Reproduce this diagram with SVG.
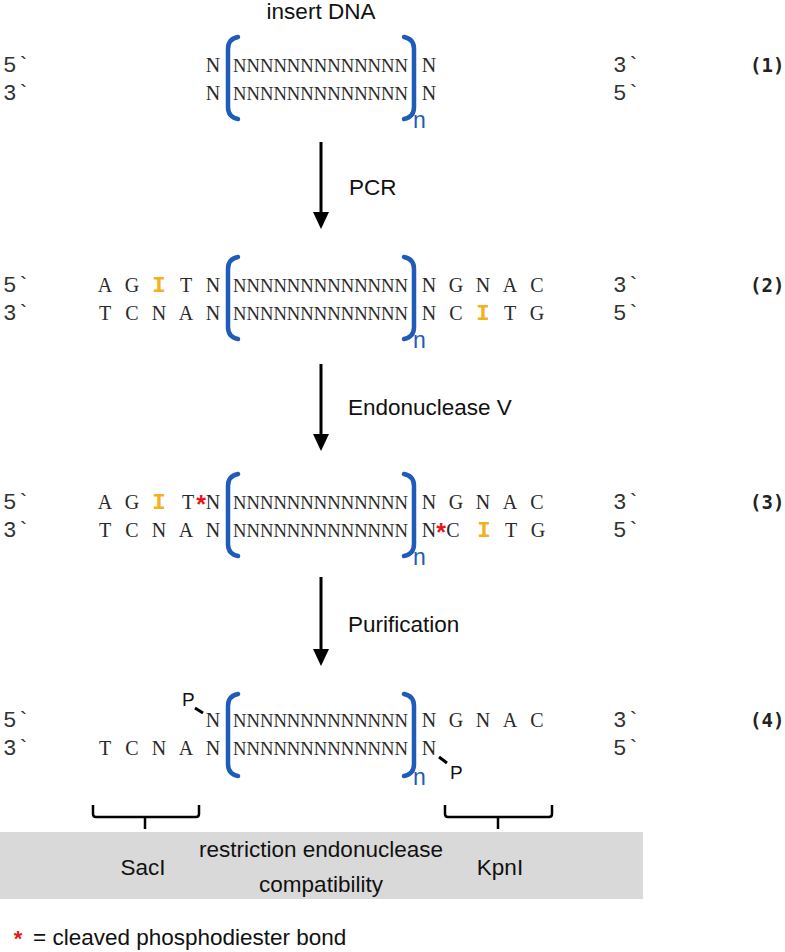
<svg xmlns="http://www.w3.org/2000/svg" width="785" height="952" viewBox="0 0 785 952">
<style>
.m{font-family:"Liberation Serif","Times New Roman",serif;font-size:20px;fill:#2a2a2a}
.e{font-family:"Liberation Mono","Courier New",monospace;font-size:22.5px;fill:#333}
.c{text-anchor:middle}
.ns{font-family:"Liberation Serif","Times New Roman",serif;font-size:19px;fill:#2a2a2a}
.i{font-family:"Liberation Mono","Courier New",monospace;font-size:22.5px;font-weight:bold;fill:#f5b020;text-anchor:middle}
.st{font-family:"Liberation Sans",Arial,sans-serif;font-size:25px;font-weight:bold;fill:#e8141c;text-anchor:middle}
.lab{font-family:"DejaVu Sans Mono","Liberation Mono",monospace;font-size:19px;font-weight:bold;fill:#222}
.s{font-family:"Liberation Sans",Arial,sans-serif;font-size:22.5px;fill:#111}
.n{font-family:"Liberation Sans",Arial,sans-serif;font-size:23px;fill:#1f5cb8}
.p{font-family:"Liberation Sans",Arial,sans-serif;font-size:19px;fill:#111}
.br{fill:none;stroke:#1f5cb8;stroke-width:4.5;stroke-linecap:round}
.ar{stroke:#000;stroke-width:3;fill:none}
.tk{stroke:#000;stroke-width:3;stroke-linecap:butt}
.brace{fill:none;stroke:#000;stroke-width:2.5}
</style>
<defs>
<marker id="ah" markerUnits="userSpaceOnUse" markerWidth="17" markerHeight="16" viewBox="0 0 17 16" refX="0" refY="8" orient="auto">
<polygon points="0,0 17,8 0,16" fill="#000"/>
</marker>
<path id="lb" class="br" d="M10,0 Q0,2 0,12 L0,70 Q0,80 10,82"/>
<path id="rb" class="br" d="M0,0 Q10,2 10,12 L10,70 Q10,80 0,82"/>
</defs>
<rect width="785" height="952" fill="#fff"/>

<text class="s c" x="321" y="19">insert DNA</text>

<g id="step1">
<text class="e" x="3" y="72">5`</text>
<text class="e" x="3" y="100">3`</text>
<text class="m c" x="213" y="72">N</text>
<text class="m c" x="213" y="100">N</text>
<use href="#lb" x="228" y="37"/>
<text class="ns" x="233" y="72" textLength="175" lengthAdjust="spacingAndGlyphs">NNNNNNNNNNNNN</text>
<text class="ns" x="233" y="100" textLength="175" lengthAdjust="spacingAndGlyphs">NNNNNNNNNNNNN</text>
<use href="#rb" x="404" y="37"/>
<text class="n" x="413" y="128">n</text>
<text class="m c" x="429" y="72">N</text>
<text class="m c" x="429" y="100">N</text>
<text class="e" x="613" y="72">3`</text>
<text class="e" x="613" y="100">5`</text>
<text class="lab" x="750" y="72">(1)</text>
</g>

<g id="step2">
<text class="e" x="3" y="292">5`</text>
<text class="e" x="3" y="320">3`</text>
<text class="m c" x="105" y="292">A</text>
<text class="m c" x="132" y="292">G</text>
<text class="i" x="159" y="292">I</text>
<text class="m c" x="186" y="292">T</text>
<text class="m c" x="213" y="292">N</text>
<text class="m c" x="105" y="320">T</text>
<text class="m c" x="132" y="320">C</text>
<text class="m c" x="159" y="320">N</text>
<text class="m c" x="186" y="320">A</text>
<text class="m c" x="213" y="320">N</text>
<use href="#lb" x="228" y="257"/>
<text class="ns" x="233" y="292" textLength="175" lengthAdjust="spacingAndGlyphs">NNNNNNNNNNNNN</text>
<text class="ns" x="233" y="320" textLength="175" lengthAdjust="spacingAndGlyphs">NNNNNNNNNNNNN</text>
<use href="#rb" x="404" y="257"/>
<text class="n" x="413" y="348">n</text>
<text class="m c" x="429" y="292">N</text>
<text class="m c" x="456" y="292">G</text>
<text class="m c" x="483" y="292">N</text>
<text class="m c" x="510" y="292">A</text>
<text class="m c" x="537" y="292">C</text>
<text class="m c" x="429" y="320">N</text>
<text class="m c" x="456" y="320">C</text>
<text class="i" x="483" y="320">I</text>
<text class="m c" x="510" y="320">T</text>
<text class="m c" x="537" y="320">G</text>
<text class="e" x="613" y="292">3`</text>
<text class="e" x="613" y="320">5`</text>
<text class="lab" x="750" y="292">(2)</text>
</g>

<g id="step3">
<text class="e" x="3" y="509">5`</text>
<text class="e" x="3" y="537">3`</text>
<text class="m c" x="105" y="509">A</text>
<text class="m c" x="132" y="509">G</text>
<text class="i" x="159" y="509">I</text>
<text class="m c" x="188" y="509">T</text>
<text class="st" x="201" y="513">*</text>
<text class="m c" x="213" y="509">N</text>
<text class="m c" x="105" y="537">T</text>
<text class="m c" x="132" y="537">C</text>
<text class="m c" x="159" y="537">N</text>
<text class="m c" x="186" y="537">A</text>
<text class="m c" x="213" y="537">N</text>
<use href="#lb" x="228" y="474"/>
<text class="ns" x="233" y="509" textLength="175" lengthAdjust="spacingAndGlyphs">NNNNNNNNNNNNN</text>
<text class="ns" x="233" y="537" textLength="175" lengthAdjust="spacingAndGlyphs">NNNNNNNNNNNNN</text>
<use href="#rb" x="404" y="474"/>
<text class="n" x="413" y="565">n</text>
<text class="m c" x="429" y="509">N</text>
<text class="m c" x="456" y="509">G</text>
<text class="m c" x="483" y="509">N</text>
<text class="m c" x="510" y="509">A</text>
<text class="m c" x="537" y="509">C</text>
<text class="m c" x="429" y="537">N</text>
<text class="st" x="441" y="541">*</text>
<text class="m c" x="453" y="537">C</text>
<text class="i" x="484" y="537">I</text>
<text class="m c" x="511" y="537">T</text>
<text class="m c" x="538" y="537">G</text>
<text class="e" x="613" y="509">3`</text>
<text class="e" x="613" y="537">5`</text>
<text class="lab" x="750" y="509">(3)</text>
</g>

<g id="step4">
<text class="e" x="3" y="727">5`</text>
<text class="e" x="3" y="755">3`</text>
<text class="p" x="182" y="706">P</text>
<line class="tk" x1="195" y1="708" x2="203" y2="713"/>
<text class="m c" x="213" y="727">N</text>
<text class="m c" x="105" y="755">T</text>
<text class="m c" x="132" y="755">C</text>
<text class="m c" x="159" y="755">N</text>
<text class="m c" x="186" y="755">A</text>
<text class="m c" x="213" y="755">N</text>
<use href="#lb" x="228" y="694"/>
<text class="ns" x="233" y="727" textLength="175" lengthAdjust="spacingAndGlyphs">NNNNNNNNNNNNN</text>
<text class="ns" x="233" y="755" textLength="175" lengthAdjust="spacingAndGlyphs">NNNNNNNNNNNNN</text>
<use href="#rb" x="404" y="694"/>
<text class="n" x="413" y="785">n</text>
<text class="m c" x="429" y="727">N</text>
<text class="m c" x="456" y="727">G</text>
<text class="m c" x="483" y="727">N</text>
<text class="m c" x="510" y="727">A</text>
<text class="m c" x="537" y="727">C</text>
<text class="m c" x="429" y="755">N</text>
<line class="tk" x1="439" y1="757" x2="447" y2="763"/>
<text class="p" x="450" y="779">P</text>
<text class="e" x="613" y="727">3`</text>
<text class="e" x="613" y="755">5`</text>
<text class="lab" x="750" y="727">(4)</text>
</g>

<g id="connectors">
<line class="ar" x1="321" y1="142" x2="321" y2="212" marker-end="url(#ah)"/>
<line class="ar" x1="321" y1="364" x2="321" y2="434" marker-end="url(#ah)"/>
<line class="ar" x1="321" y1="577" x2="321" y2="649" marker-end="url(#ah)"/>
</g>
<g id="step-labels">
<text class="s" x="349" y="195">PCR</text>
<text class="s" x="348" y="415">Endonuclease V</text>
<text class="s" x="348" y="632">Purification</text>
</g>

<g id="compatibility">
<path class="brace" d="M93,805 L93,814 Q93,817 96,817 L196,817 Q199,817 199,814 L199,805 M145,817 L145,829"/>
<path class="brace" d="M445,805 L445,814 Q445,817 448,817 L549,817 Q552,817 552,814 L552,805 M498,817 L498,829"/>
<rect x="0" y="832" width="643" height="67" fill="#d9d9d9"/>
<text class="s c" x="143" y="875">SacI</text>
<text class="s c" x="321" y="857">restriction endonuclease</text>
<text class="s c" x="321" y="892">compatibility</text>
<text class="s c" x="500" y="875">KpnI</text>
</g>

<g id="legend">
<text class="st" x="18" y="946" style="font-size:22px">*</text>
<text class="s" x="33" y="945">= cleaved phosphodiester bond</text>
</g>
</svg>
